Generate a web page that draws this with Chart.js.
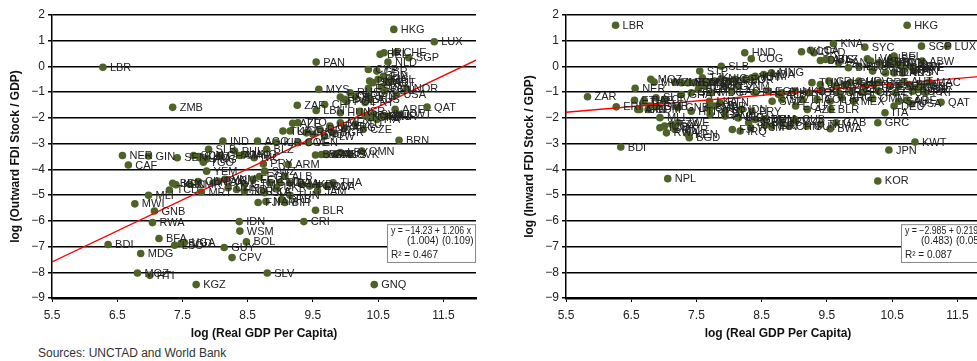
<!DOCTYPE html>
<html>
<head>
<meta charset="utf-8">
<script src="https://cdn.jsdelivr.net/npm/chart.js@4.4.1/dist/chart.umd.min.js"></script>
<style>
  html, body { margin: 0; padding: 0; background: #fff; width: 977px; height: 361px; overflow: hidden; }
  .panel { position: absolute; top: 0; width: 490px; height: 346px; }
  #left { left: 0; }
  #right { left: 514px; }
  #source { position: absolute; left: 38px; top: 346px; font: 12px "Liberation Sans", Arial, sans-serif; color: #333; }
</style>
</head>
<body>
<div class="panel" id="left"><canvas id="outward"></canvas></div>
<div class="panel" id="right"><canvas id="inward"></canvas></div>
<div id="source">Sources: UNCTAD and World Bank</div>
<script>
const gdpTicks = [5.5, 6.5, 7.5, 8.5, 9.5, 10.5, 11.5];

// outward FDI stock (left panel)
const outwardCodes = [
    "HKG","LUX","BEL","IRL","CHE","SGP","NLD","PAN","CYP","GBR",
    "DNK","SWE","FRA","FIN","AUT","ESP","CAN","DEU","ISL","NOR",
    "USA","MYS","RUS","EST","HRV","PRT","LVA","CHL","LBN","HUN",
    "ISR","KOR","GRC","SVN","ITA","SAU","BHR","ARE","QAT","KWT",
    "CZE","MEX","ARG","LTU","URY","BGR","VEN","BRN","OMN","SVK",
    "BWA","GAB","LBY","AZE","TUR","TTO","KAZ","COL","BLZ","PHL",
    "MNG","PRY","ARM","SWZ","ALB","DZA","MKD","DOM","JAM","TUN",
    "NAM","BIH","BLR","IDN","CRI","WSM","BOL","GUY","CPV","SLV",
    "GNQ","LBR","ZMB","NER","CAF","GIN","SLB","IND","AGO","KIR",
    "YEM","BEN","KEN","CIV","PAK","TCD","MRT","MLI","MWI","GNB",
    "RWA","BFA","BDI","MDG","LSO","BGD","UGA","MOZ","HTI","KGZ",
    "SEN","SDN","LAO","TGO","PNG","KHM","GHA","NIC","MAR","CMR",
    "NGA","SYR","VNM","UZB","HND","GTM","ECU","EGY","GEO","UKR",
    "MDA","PER","LCA","THA","FJI","SRB","JOR","LKA","SLE","BRA",
    "MUS","IRN","GRD","ROU","PLW","ZAF","JPN","AUS","POL"
];
const outwardGdp = [
    10.74,11.36,10.53,10.59,10.78,10.97,10.65,9.55,10.35,10.48,
    10.37,10.42,10.50,10.58,10.63,10.35,10.55,10.60,10.70,10.94,
    10.78,9.59,10.07,9.92,10.15,10.30,9.99,9.68,9.55,9.92,
    10.22,10.30,10.38,10.43,10.48,10.56,10.63,10.76,11.25,10.84,
    10.27,9.92,9.99,10.15,9.76,9.81,9.43,10.82,10.25,10.07,
    9.54,9.71,9.92,9.19,9.04,9.27,9.15,9.27,8.79,8.30,
    8.45,8.74,9.12,8.76,9.07,9.15,9.33,9.57,9.57,9.15,
    8.78,9.07,9.54,8.37,9.36,8.38,8.48,8.14,8.26,8.80,
    10.44,6.28,7.35,6.58,6.67,6.98,7.90,8.12,8.65,8.94,
    7.87,7.35,7.40,7.74,8.02,7.30,7.79,6.98,6.77,7.07,
    7.04,7.14,6.36,6.86,7.38,7.48,7.53,6.81,7.00,7.71,
    7.42,7.67,7.79,7.82,7.86,7.75,8.07,8.60,8.38,7.61,
    7.97,8.04,8.15,8.20,8.33,8.45,8.58,8.68,8.84,8.94,
    8.99,9.45,9.71,9.81,8.66,9.02,8.45,8.74,8.76,9.63,
    9.84,9.40,9.50,9.61,9.68,9.26,10.35,10.38,10.02
];
const outwardFdi = [
    1.44,0.96,0.47,0.53,0.55,0.34,0.17,0.17,-0.12,-0.18,
    -0.57,-0.63,-0.50,-0.38,-0.63,-0.85,-0.80,-0.95,-0.50,-0.87,
    -1.09,-0.89,-1.02,-1.19,-1.17,-1.40,-1.28,-1.48,-1.71,-1.80,
    -1.74,-1.93,-1.99,-1.86,-2.06,-1.93,-1.93,-1.67,-1.58,-1.86,
    -2.45,-2.19,-2.38,-2.25,-2.32,-2.58,-2.96,-2.87,-3.29,-3.42,
    -3.44,-3.42,-3.35,-2.21,-2.51,-2.19,-2.51,-2.96,-3.22,-3.29,
    -3.42,-3.79,-3.81,-4.07,-4.27,-4.53,-4.58,-4.65,-4.84,-5.01,
    -5.25,-5.29,-5.59,-6.03,-6.03,-6.40,-6.82,-7.04,-7.43,-8.03,
    -8.48,-0.03,-1.59,-3.46,-3.83,-3.48,-3.22,-2.90,-2.90,-2.95,
    -4.07,-4.54,-4.60,-4.47,-4.47,-4.80,-4.88,-5.01,-5.34,-5.62,
    -6.07,-6.69,-6.92,-7.27,-6.95,-6.87,-6.84,-8.03,-8.12,-8.48,
    -3.55,-3.46,-3.58,-3.72,-3.61,-3.50,-3.46,-3.55,-3.46,-4.58,
    -4.52,-4.45,-4.39,-4.71,-4.78,-4.58,-4.39,-4.28,-4.52,-4.71,
    -4.52,-4.65,-4.65,-4.52,-5.29,-5.17,-4.85,-4.85,-4.91,-3.42,
    -3.42,-2.58,-2.64,-2.45,-2.71,-1.51,-1.15,-1.28,-1.35
];
const outwardFit = [-14.23, 1.206];
const outwardSe = [1.004, 0.109];
const outwardR2 = 0.467;

// inward FDI stock (right panel)
const inwardCodes = [
    "LBR","ZAR","ERI","BDI","NPL","NER","MOZ","MWI","ETH","GIN",
    "CAF","COM","SLE","GMB","MLI","TCD","UGA","RWA","TZA","KEN",
    "BGD","STP","TJK","SLB","GHA","SEN","BEN","TGO","MDG","KGZ",
    "LAO","VNM","GNB","HTI","BFA","NGA","PAK","IND","CIV","HND",
    "COG","MNG","KHM","MDA","ZMB","LSO","YEM","SDN","PNG","UZB",
    "BOL","NIC","ARM","GEO","JOR","VUT","PHL","EGY","ALB","LKA",
    "MAR","SYR","BTN","CPV","IDN","UKR","PRY","GTM","DOM","SRB",
    "FJI","ZWE","MMR","IRQ","HKG","SGP","LUX","KNA","SYC","VCT",
    "LCA","GRD","DMA","ATG","BLZ","BEL","MLT","EST","IRL","NLD",
    "CHE","SWE","CYP","ISL","DNK","AUS","FIN","MAC","NOR","QAT",
    "ARE","USA","DEU","ITA","GRC","KWT","JPN","KOR","OMN","GAB",
    "BWA","DZA","CHN","PER","WSM","BLR","AZE","ECU","SWZ","TUN",
    "JAM","CRI","MYS","BRA","CHL","HRV","TTO","CZE","PRT","ESP",
    "NZL","FRA","CAN","GBR","AUT","PAN","BHS","BRB","LVA","SVK",
    "ISR","SVN","BHR","BRN","ABW","SLV","THA","COL","TUR","ARG",
    "MEX","SAU","BIH","MKD","ROU","BGR","URY","LBN","POL","KAZ",
    "LTU","RUS","PRI","VEN","IRN","LBY","CUB","GUY","TKM","TLS",
    "SOM","AFG"
];
const inwardGdp = [
    6.26,5.83,6.27,6.34,7.06,6.56,6.80,6.85,6.55,6.63,
    6.70,6.76,6.88,6.88,6.94,6.94,7.01,7.04,7.12,7.37,
    7.39,7.55,7.59,7.88,7.27,7.42,7.53,7.63,7.73,7.94,
    8.04,8.14,7.22,7.42,7.68,7.71,7.94,8.14,7.01,8.24,
    8.34,8.65,8.40,8.53,7.17,7.27,7.37,7.47,7.58,7.68,
    7.78,7.88,7.99,8.09,8.24,8.35,8.40,8.60,8.76,7.70,
    7.78,7.70,7.86,7.94,8.19,8.14,8.35,8.40,8.53,8.30,
    8.05,7.22,7.17,8.17,10.73,10.95,11.35,9.60,10.08,9.11,
    9.25,9.30,9.40,9.48,9.56,10.53,10.17,10.30,10.45,10.61,
    10.66,10.81,10.20,10.40,10.53,10.66,10.84,11.07,10.89,11.25,
    10.73,10.80,10.53,10.39,10.28,10.85,10.45,10.28,10.20,9.64,
    9.55,9.02,8.92,8.55,8.33,9.56,9.20,9.02,8.66,9.27,
    9.40,9.53,9.63,9.78,9.86,9.99,10.09,10.22,10.30,10.47,
    10.60,10.76,10.86,10.96,10.68,9.68,9.83,9.99,10.12,10.32,
    10.48,10.55,10.68,10.78,10.96,8.81,9.12,9.35,9.55,9.73,
    9.91,10.60,8.81,9.01,9.22,9.42,9.68,9.88,10.04,10.29,
    10.55,10.81,11.01,8.55,8.65,8.81,9.01,9.19,9.40,6.68,
    6.78,6.60
];
const inwardFdi = [
    1.60,-1.18,-1.57,-3.13,-4.36,-0.85,-0.50,-0.61,-1.32,-1.67,
    -1.32,-1.67,-1.22,-1.57,-1.99,-2.38,-2.32,-2.58,-2.25,-2.64,
    -2.77,-0.18,-0.44,0.01,-1.09,-1.02,-0.89,-0.77,-1.02,-0.77,
    -0.96,-0.77,-1.60,-1.74,-1.60,-1.86,-1.93,-1.99,-1.28,0.53,
    0.30,-0.25,-0.38,-0.31,-0.61,-0.63,-0.63,-0.63,-0.70,-0.61,
    -0.57,-0.48,-0.57,-0.50,-0.50,-0.44,-1.02,-0.96,-1.09,-1.35,
    -1.54,-1.67,-1.41,-1.74,-1.67,-1.99,-1.74,-2.06,-2.06,-2.19,
    -2.45,-2.19,-2.45,-2.51,1.60,0.79,0.79,0.88,0.75,0.57,
    0.63,0.53,0.23,0.27,0.27,0.40,0.21,0.14,0.14,0.08,
    -0.05,-0.05,-0.18,-0.25,-0.25,-0.25,-0.18,-0.61,-0.89,-1.39,
    -1.31,-1.45,-1.54,-1.80,-2.19,-2.94,-3.25,-4.45,-1.25,-2.19,
    -2.42,-2.12,-2.32,-2.29,-2.38,-1.67,-1.67,-1.54,-1.35,-0.63,
    -0.70,-0.57,-0.76,-0.70,-0.63,-0.57,-0.76,-0.70,-0.63,-0.76,
    -0.76,-0.70,-0.83,-0.76,-0.60,0.14,-0.05,0.01,0.30,0.08,
    0.30,0.14,-0.12,0.01,0.21,-1.28,-1.28,-1.28,-1.35,-1.22,
    -1.35,-1.35,-1.02,-0.96,-1.02,-0.96,-1.02,-0.96,-1.02,-0.96,
    -1.02,-0.96,-1.02,-2.06,-2.32,-2.19,-2.06,-2.32,-2.25,-1.41,
    -1.54,-1.67
];
const inwardFit = [-2.985, 0.219];
const inwardSe = [0.483, 0.054];
const inwardR2 = 0.087;

const FONT = '"Liberation Sans", Arial, sans-serif';
const minus = (v) => (v < 0 ? "\u2212" + Math.abs(v) : String(v));

const pointLabels = {
    id: "pointLabels",
    afterDatasetsDraw(chart, args, opts) {
        const {ctx} = chart;
        const meta = chart.getDatasetMeta(1);
        ctx.save();
        ctx.font = "11px " + FONT;
        ctx.fillStyle = "#222";
        ctx.textBaseline = "middle";
        meta.data.forEach((pt, i) => {
            ctx.fillText(opts.codes[i], pt.x + 7, pt.y + 0.5);
        });
        ctx.restore();
    },
};

const fitBox = {
    id: "fitBox",
    afterDraw(chart, args, opts) {
        const {ctx, chartArea} = chart;
        const y = chart.scales.y;
        const left = chartArea.right - 89;
        const top = y.getPixelForValue(-6.13);
        const bottom = y.getPixelForValue(-7.6);
        ctx.save();
        ctx.fillStyle = "#fff";
        ctx.fillRect(left, top, 88, bottom - top);
        ctx.strokeStyle = "#888";
        ctx.lineWidth = 1;
        ctx.strokeRect(left + 0.5, top + 0.5, 88, bottom - top);
        ctx.fillStyle = "#222";
        ctx.font = "10px " + FONT;
        ctx.textBaseline = "middle";
        const [a, b] = opts.fit;
        const [sa, sb] = opts.se;
        ctx.fillText("y = " + minus(a) + " + " + b.toFixed(3) + " x", left + 4, top + 7, 80);
        ctx.fillText("(" + sa.toFixed(3) + ")", left + 20, top + 17.5);
        ctx.fillText("(" + sb.toFixed(3) + ")", left + 55, top + 17.5);
        ctx.fillText("R\u00b2 = " + opts.r2.toFixed(3), left + 4, top + 31);
        ctx.restore();
    },
};

function makeChart(canvasId, codes, gdp, fdi, fit, se, r2, yTitle) {
    const points = gdp.map((x, i) => ({x, y: fdi[i]}));
    const line = [5.5, 12].map((x) => ({x, y: fit[0] + fit[1] * x}));
    const tickFont = {family: FONT, size: 12};
    const titleFont = {family: FONT, size: 12, weight: "bold"};

    return new Chart(document.getElementById(canvasId), {
        type: "scatter",
        data: {
            datasets: [
                {
                    type: "line",
                    data: line,
                    borderColor: "#ff0000",
                    borderWidth: 1.4,
                    pointRadius: 0,
                    order: 0,
                },
                {
                    data: points,
                    backgroundColor: "#4f6228",
                    pointRadius: 3.8,
                    pointBorderWidth: 0,
                    order: 1,
                },
            ],
        },
        options: {
            responsive: true,
            maintainAspectRatio: false,
            animation: false,
            layout: {padding: {top: 15, right: 14, left: 0, bottom: 0}},
            plugins: {
                legend: {display: false},
                tooltip: {enabled: false},
                pointLabels: {codes},
                fitBox: {fit, se, r2},
            },
            scales: {
                x: {
                    type: "linear",
                    min: 5.5,
                    max: 12,
                    afterBuildTicks: (s) => { s.ticks = gdpTicks.map((v) => ({value: v})); },
                    afterFit: (s) => { s.height = 48; },
                    grid: {drawOnChartArea: false, tickLength: 4, color: "#000"},
                    border: {color: "#000", width: 2.5},
                    ticks: {
                        font: tickFont, color: "#222", padding: 6, autoSkip: false, maxRotation: 0,
                        callback: (v) => Number(v).toFixed(1),
                    },
                    title: {display: true, text: "log (Real GDP Per Capita)", font: titleFont, color: "#111", padding: {top: 0, bottom: 5}},
                },
                y: {
                    min: -9,
                    max: 2,
                    afterFit: (s) => { s.width = 52; },
                    grid: {color: "#000", lineWidth: 1.5, tickLength: 4},
                    border: {color: "#000", width: 1.5},
                    ticks: {stepSize: 1, font: tickFont, color: "#222", padding: 3, callback: (v) => minus(v)},
                    title: {display: true, text: yTitle, font: titleFont, color: "#111", padding: {top: 8, bottom: 0}},
                },
            },
        },
        plugins: [pointLabels, fitBox],
    });
}

makeChart("outward", outwardCodes, outwardGdp, outwardFdi, outwardFit, outwardSe, outwardR2, "log (Outward FDI Stock / GDP)");
makeChart("inward", inwardCodes, inwardGdp, inwardFdi, inwardFit, inwardSe, inwardR2, "log (Inward FDI Stock / GDP)");
</script>
</body>
</html>
